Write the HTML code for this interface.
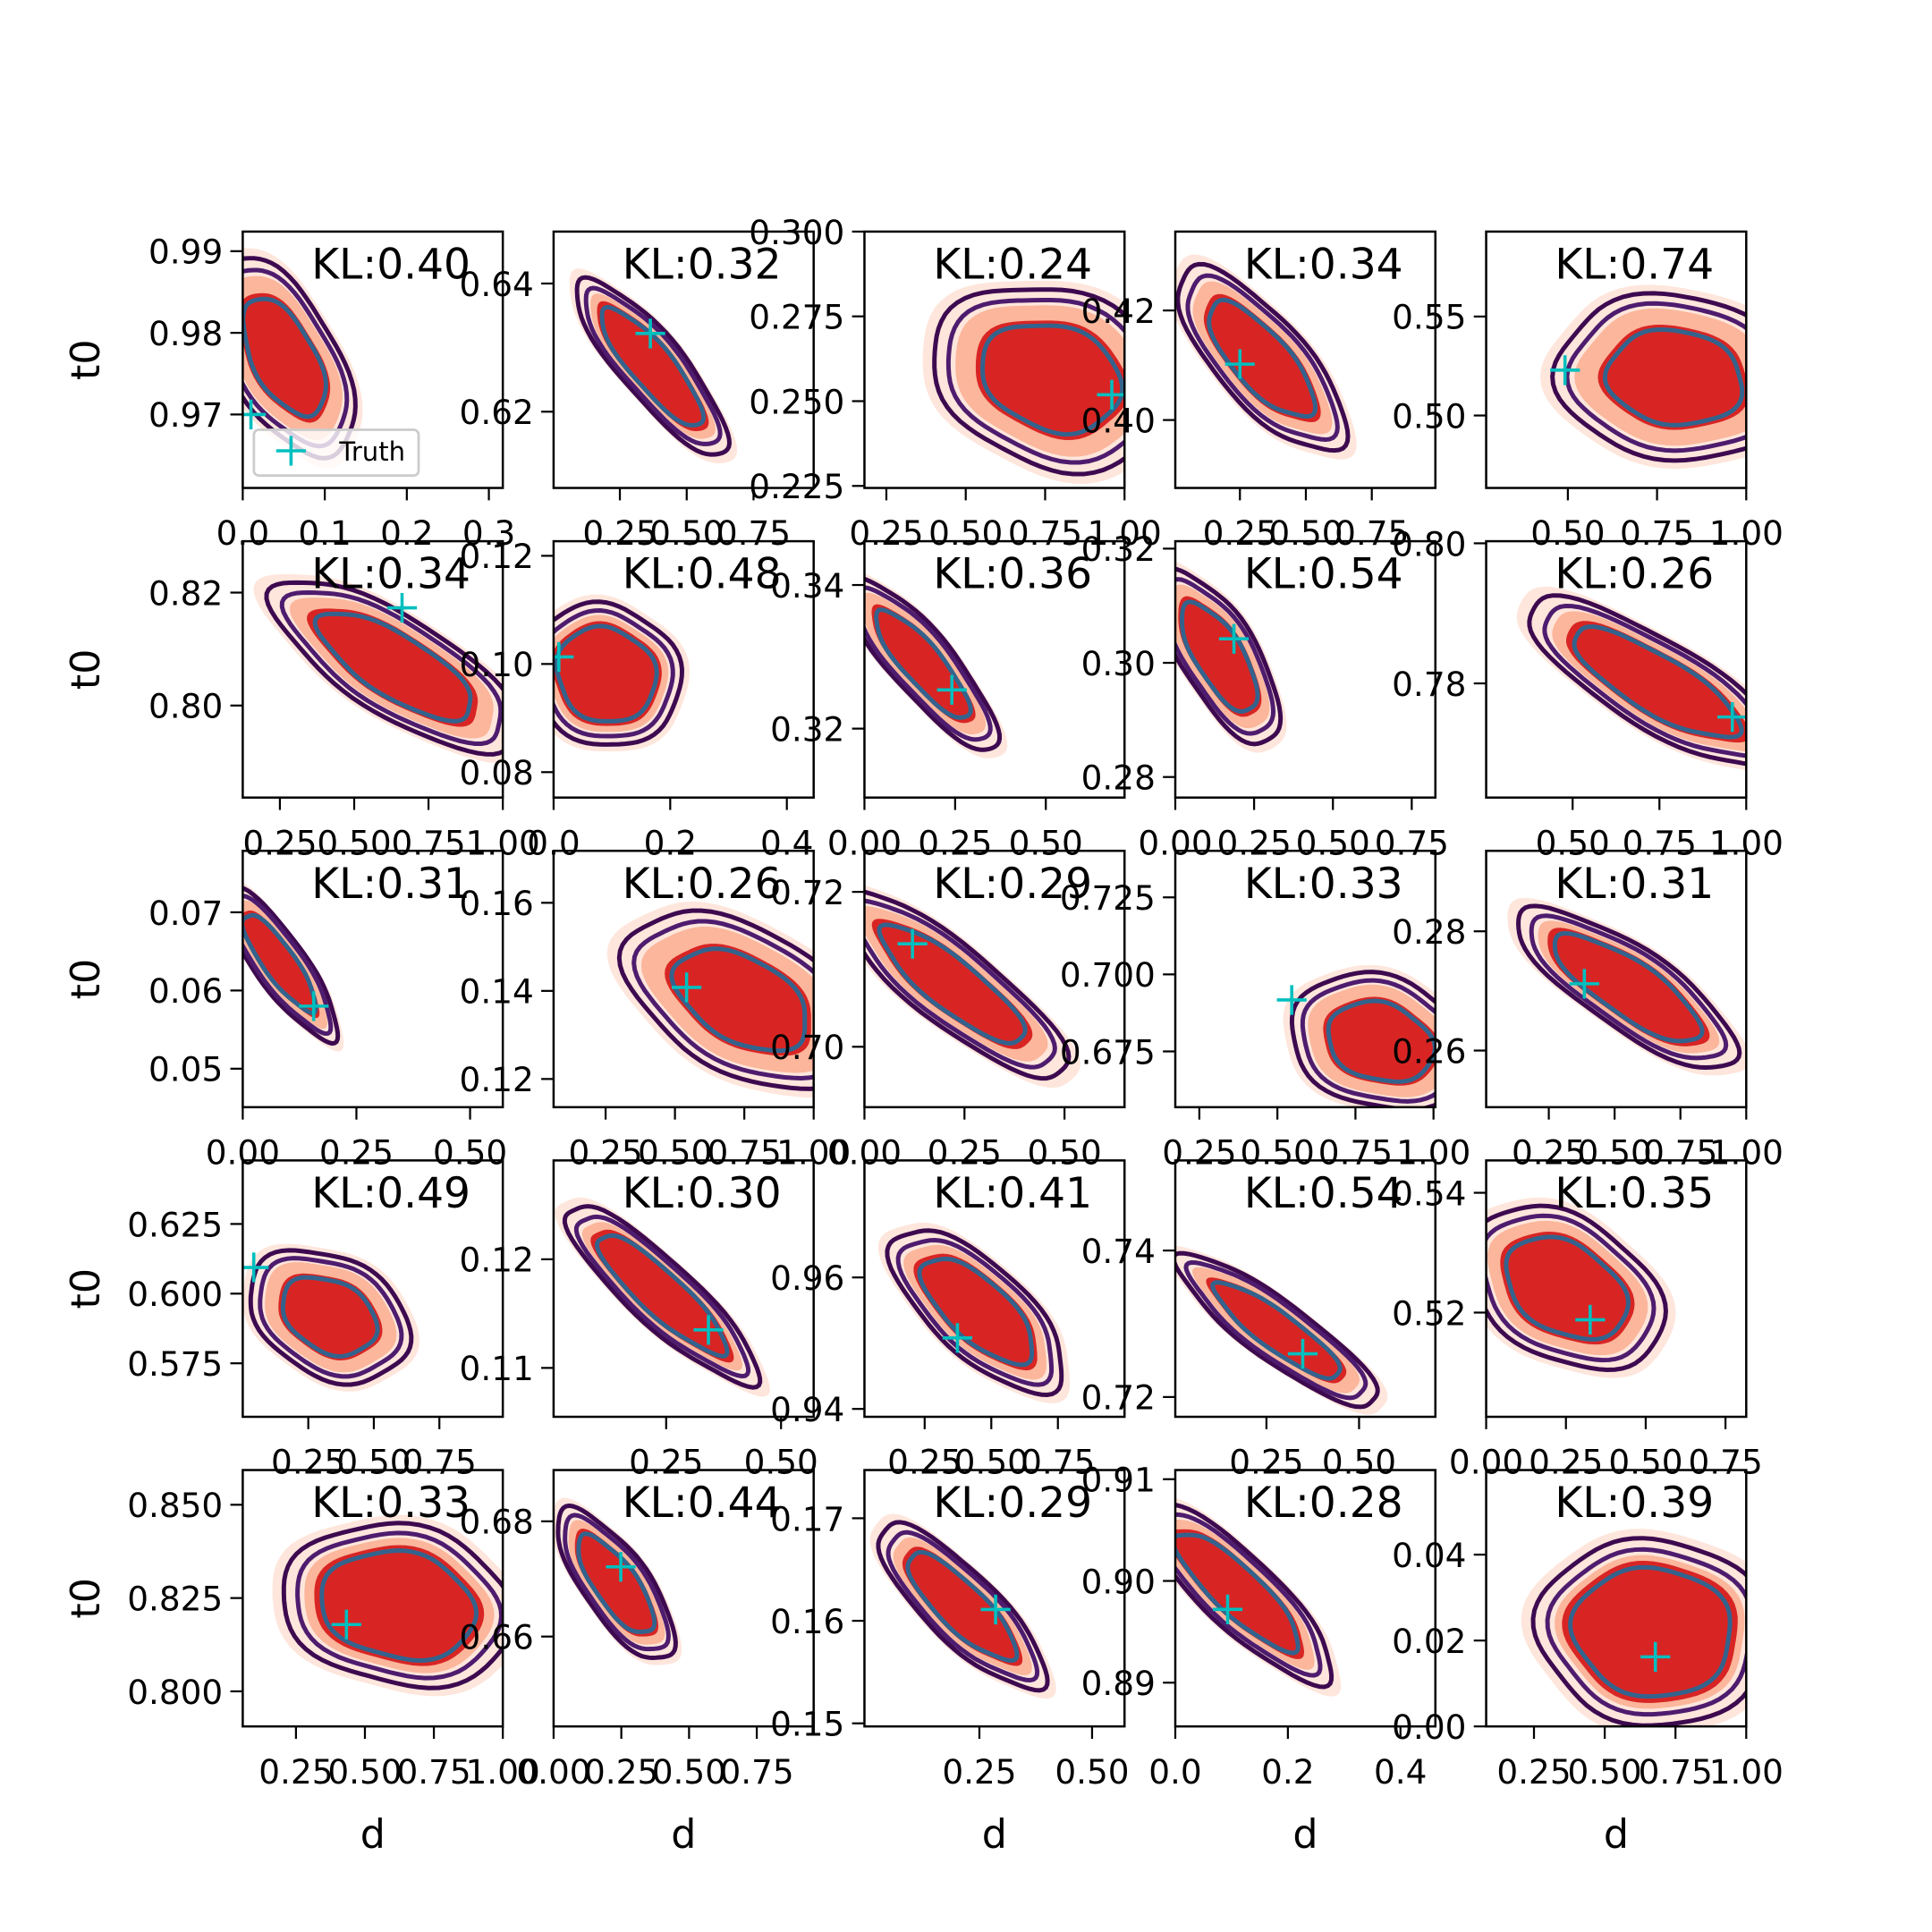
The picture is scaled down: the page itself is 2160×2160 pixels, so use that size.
<!DOCTYPE html>
<html><head><meta charset="utf-8">
<style>
html,body{margin:0;padding:0;background:#fff;}
svg{display:block;}
text{font-family:"DejaVu Sans","Liberation Sans",sans-serif;}
</style></head>
<body>
<svg id="fig" xmlns="http://www.w3.org/2000/svg" width="2160" height="2160" viewBox="0 0 1560 1560">
<rect x="0" y="0" width="1560" height="1560" fill="#fff"/>
</svg>
<script>
// ---- data (row-major 5x5 panels) ----
const klValues = ["0.40","0.32","0.24","0.34","0.74","0.34","0.48","0.36","0.54","0.26","0.31","0.26","0.29","0.33","0.31","0.49","0.30","0.41","0.54","0.35","0.33","0.44","0.29","0.28","0.39"];
const xLimits = [[0,0.317],[0.002,0.975],[0.181,1.0],[0.005,0.991],[0.271,1.0],
 [0.125,1.0],[0,0.446],[0,0.717],[0,0.825],[0.251,1.0],
 [0,0.572],[0.0625,1.0],[0,0.65],[0.173,1.006],[0.012,1.0],
 [0,0.992],[0.005,0.571],[0.024,1.0],[0.004,0.706],[0,0.815],
 [0.057,1.0],[0,0.96],[-0.005,0.572],[0,0.462],[0.081,1.0]];
const yLimits = [[0.961,0.9924],[0.6081,0.6481],[0.2244,0.300],[0.3876,0.4344],[0.4634,0.5929],
 [0.7837,0.8291],[0.0753,0.1227],[0.3104,0.3461],[0.2764,0.3213],[0.7637,0.8003],
 [0.04508,0.07786],[0.1136,0.1718],[0.6922,0.7253],[0.6569,0.7401],[0.2505,0.2935],
 [0.5558,0.6478],[0.1055,0.1291],[0.9388,0.9778],[0.7173,0.7523],[0.5026,0.5454],
 [0.7906,0.8593],[0.6444,0.6889],[0.1497,0.1747],[0.8857,0.9109],[0,0.0597]];
const xTickLabels = [["0.0","0.1","0.2","0.3"],["0.25","0.50","0.75"],["0.25","0.50","0.75","1.00"],["0.25","0.50","0.75"],["0.50","0.75","1.00"],
 ["0.25","0.50","0.75","1.00"],["0.0","0.2","0.4"],["0.00","0.25","0.50"],["0.00","0.25","0.50","0.75"],["0.50","0.75","1.00"],
 ["0.00","0.25","0.50"],["0.25","0.50","0.75","1.00"],["0.00","0.25","0.50"],["0.25","0.50","0.75","1.00"],["0.25","0.50","0.75","1.00"],
 ["0.25","0.50","0.75"],["0.25","0.50"],["0.25","0.50","0.75"],["0.25","0.50"],["0.00","0.25","0.50","0.75"],
 ["0.25","0.50","0.75","1.00"],["0.00","0.25","0.50","0.75"],["0.25","0.50"],["0.0","0.2","0.4"],["0.25","0.50","0.75","1.00"]];
const yTickLabels = [["0.97","0.98","0.99"],["0.62","0.64"],["0.225","0.250","0.275","0.300"],["0.40","0.42"],["0.50","0.55"],
 ["0.80","0.82"],["0.08","0.10","0.12"],["0.32","0.34"],["0.28","0.30","0.32"],["0.78","0.80"],
 ["0.05","0.06","0.07"],["0.12","0.14","0.16"],["0.70","0.72"],["0.675","0.700","0.725"],["0.26","0.28"],
 ["0.575","0.600","0.625"],["0.11","0.12"],["0.94","0.96"],["0.72","0.74"],["0.52","0.54"],
 ["0.800","0.825","0.850"],["0.66","0.68"],["0.15","0.16","0.17"],["0.89","0.90","0.91"],["0.00","0.02","0.04"]];
// posterior blob: mean x, mean y, sd x, sd y, correlation, outer-contour radius
const meanX = [0.05,0.37,0.77,0.33,0.80, 0.64,0.09,0.16,0.14,0.74, 0.08,0.74,0.22,0.83,0.55, 0.33,0.24,0.45,0.28,0.25, 0.62,0.23,0.21,0.11,0.67];
const meanY = [0.977,0.627,0.257,0.411,0.519, 0.807,0.098,0.329,0.301,0.780, 0.0636,0.138,0.708,0.678,0.2705, 0.592,0.1168,0.955,0.729,0.524, 0.823,0.669,0.1614,0.899,0.022];
const sdX = [0.05,0.19,0.22,0.2,0.19, 0.26,0.085,0.13,0.12,0.24, 0.08,0.24,0.18,0.17,0.28, 0.18,0.14,0.21,0.17,0.19, 0.28,0.14,0.12,0.11,0.28];
const sdY = [0.0072,0.0092,0.016,0.0105,0.024, 0.0095,0.0088,0.0075,0.0095,0.0078, 0.0062,0.0115,0.0076,0.013,0.009, 0.014,0.0055,0.008,0.0065,0.0085, 0.0145,0.0085,0.0052,0.0058,0.015];
const corr = [-0.55,-0.85,-0.2,-0.75,-0.1, -0.75,-0.1,-0.85,-0.7,-0.8, -0.85,-0.45,-0.85,-0.2,-0.8, -0.3,-0.88,-0.7,-0.88,-0.35, -0.15,-0.75,-0.82,-0.85,-0.05];
const outerR = [1.7,1.5,1.7,1.6,1.75, 1.6,1.5,1.6,1.6,1.55, 1.6,1.75,1.6,1.7,1.5, 1.7,1.5,1.55,1.6,1.6, 1.5,1.55,1.55,1.55,1.45];
const truthX = [0.01,0.364,0.96,0.25,0.492, 0.661,0.009,0.241,0.186,0.96, 0.156,0.542,0.12,0.546,0.385, 0.042,0.342,0.373,0.348,0.326, 0.433,0.248,0.286,0.093,0.679];
const truthY = [0.970,0.6322,0.2519,0.4102,0.5229, 0.8173,0.1013,0.3254,0.3042,0.7752, 0.0580,0.1408,0.7133,0.6917,0.2712, 0.6094,0.1135,0.9508,0.7259,0.5188, 0.8179,0.6721,0.1611,0.8972,0.0162];

const NS='http://www.w3.org/2000/svg';
const svg=document.getElementById('fig');
function mk(tag,attrs,parent){const e=document.createElementNS(NS,tag);for(const k in attrs)e.setAttribute(k,attrs[k]);(parent||svg).appendChild(e);return e;}

const W=210,H=207;
for(let i=0;i<25;i++){
  const r=Math.floor(i/5),c=i%5;
  const L=196+251*c,T=187+250*r;
  const xl=xLimits[i],yl=yLimits[i];
  const sx=v=>L+(v-xl[0])/(xl[1]-xl[0])*W;
  const sy=v=>T+H-(v-yl[0])/(yl[1]-yl[0])*H;
  const g=mk('g',{});
  
  
  const cp=mk('clipPath',{id:'cp'+i},g);
  mk('rect',{x:L,y:T,width:W,height:H},cp);
  const plot=mk('g',{'clip-path':'url(#cp'+i+')'},g);
  const mx=meanX[i],my=meanY[i],dx=sdX[i],dy=sdY[i],rho=corr[i],k=outerR[i];
  function contour(rad){
    let d='';
    for(let j=0;j<=72;j++){
      const t=j/72*2*Math.PI;
      const w=1+0.03*Math.sin(5*t+i)+0.02*Math.cos(3*t+2*i);
      const px=mx+rad*w*dx*Math.cos(t);
      const py=my+rad*w*dy*(rho*Math.cos(t)+Math.sqrt(1-rho*rho)*Math.sin(t));
      d+=(j?'L':'M')+sx(px).toFixed(1)+' '+sy(py).toFixed(1);
    }
    return d+'Z';
  }
  const f1=mk('path',{d:contour(k*1.1),fill:'#fee6dc'},plot);
  
  
  const f2=mk('path',{d:contour(k*0.82),fill:'#fbb69b'},plot);
  
  
  const f3=mk('path',{d:contour(1.1),fill:'#d82524'},plot);
  
  
  const l1=mk('path',{d:contour(k),fill:'none',stroke:'#3d0a50','stroke-width':3.6},plot);
  
  
  const l2=mk('path',{d:contour(k*0.88),fill:'none',stroke:'#4e1c6e','stroke-width':3.6},plot);
  
  
  const l3=mk('path',{d:contour(1),fill:'none',stroke:'#33638d','stroke-width':3.6},plot);
  
  
  const tx=sx(truthX[i]),ty=sy(truthY[i]);
  const tm=mk('path',{d:`M${tx-12} ${ty}H${tx+12}M${tx} ${ty-12}V${ty+12}`,stroke:'#00bfbf','stroke-width':2.6,fill:'none'},plot);
  
  
  const kl=mk('text',{x:L+0.57*W,y:T+38,'font-size':34,'text-anchor':'middle',fill:'#000'},g);
  kl.textContent='KL:'+klValues[i];
  
  
  xTickLabels[i].forEach(lbl=>{
    const X=sx(parseFloat(lbl));
    mk('line',{x1:X,x2:X,y1:T+H,y2:T+H+10,stroke:'#000','stroke-width':1.6},g);
    const t=mk('text',{x:X,y:T+H+46,'font-size':27,'text-anchor':'middle'},g);
    t.textContent=lbl;
    
    
  });
  yTickLabels[i].forEach(lbl=>{
    const Y=sy(parseFloat(lbl));
    mk('line',{x1:L-10,x2:L,y1:Y,y2:Y,stroke:'#000','stroke-width':1.6},g);
    const t=mk('text',{x:L-16,y:Y+10,'font-size':27,'text-anchor':'end'},g);
    t.textContent=lbl;
    
    
  });
  const fr=mk('rect',{x:L,y:T,width:W,height:H,fill:'none',stroke:'#000','stroke-width':1.8},g);
  
  
  if(c===0){
    const yl2=mk('text',{x:0,y:0,'font-size':32,'text-anchor':'middle',transform:`translate(80 ${T+H/2}) rotate(-90)`},g);
    yl2.textContent='t0';
    
    
  }
  if(r===4){
    const xl2=mk('text',{x:L+W/2,y:1492,'font-size':32,'text-anchor':'middle'},g);
    xl2.textContent='d';
    
    
  }
  if(i===0){
    const lg=mk('g',{},g);
    
    
    mk('rect',{x:205,y:347,width:133,height:37,rx:4,fill:'rgba(255,255,255,0.8)',stroke:'#cccccc','stroke-width':2},lg);
    mk('path',{d:'M223 364H247M235 352V376',stroke:'#00bfbf','stroke-width':2.6},lg);
    const lt=mk('text',{x:274,y:372,'font-size':21},lg);
    lt.textContent='Truth';
    
    
  }
}
</script>
</body></html>
